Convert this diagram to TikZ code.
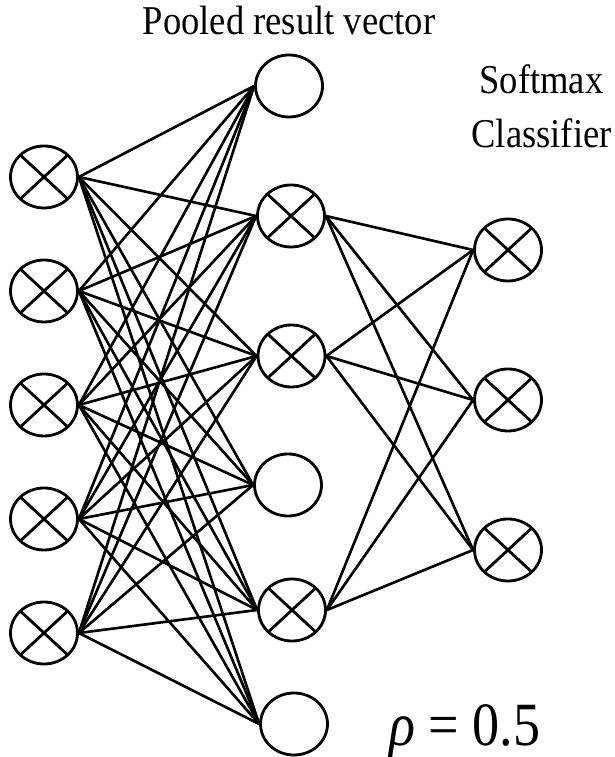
\documentclass[tikz,border=0pt]{standalone}
\usepackage{fontspec}
\setmainfont{Liberation Serif}
\usetikzlibrary{shapes.geometric}

\begin{document}
\begin{tikzpicture}[
            unit/.style = {draw, ellipse, line width = 0.8pt, inner sep = 0mm, minimum width = 6.7mm, minimum height = 6.2mm},
            prod/.style = {unit, path picture = {
                    \draw[line width = 0.8pt] (path picture bounding box.north west) -- (path picture bounding box.south east)
                        (path picture bounding box.north east) -- (path picture bounding box.south west);}},
            lbl/.style = {anchor = base, inner sep = 0mm, font = \fontsize{10.4}{12}\selectfont, yscale = 1.12, transform shape},
            con/.style = {draw, line width = 0.75pt},
        ]
        \useasboundingbox (0,0) rectangle (6.14,7.57);

        \node (I1) [prod] at (0.44, 5.80){};
        \node (I2) [prod] at (0.44, 4.66){};
        \node (I3) [prod] at (0.44, 3.52){};
        \node (I4) [prod] at (0.44, 2.38){};
        \node (I5) [prod] at (0.44, 1.24){};

        \node (H1) [unit] at (2.89, 6.71){};
        \node (H2) [prod] at (2.91, 5.41){};
        \node (H3) [prod] at (2.915, 4.01){};
        \node (H4) [unit] at (2.88, 2.72){};
        \node (H5) [prod] at (2.92, 1.47){};
        \node (H6) [unit] at (2.94, 0.33){};

        \node (O1) [prod] at (5.08, 5.07){};
        \node (O2) [prod] at (5.08, 3.57){};
        \node (O3) [prod] at (5.08, 2.07){};

        \node (POOL) [lbl] at (2.89, 7.22) {Pooled result vector};
        \node (SOFT) [lbl] at (5.415, 6.63) {Softmax};
        \node (CLS) [lbl] at (5.415, 6.09) {Classifier};
        \node (RHO) [anchor = base, inner sep = 0mm, font = \fontsize{17.5}{20}\selectfont, xscale = 0.88, transform shape] at (4.65, 0.12) {\textit{ρ} = 0.5};

        \foreach \i in {1,...,5}
            \foreach \h in {1,...,6}
                \path[con] (I\i.east) -- (H\h.west);

        \foreach \h in {2,3,5}
            \foreach \o in {1,2,3}
                \path[con] (H\h.east) -- (O\o.west);
    \end{tikzpicture}
\end{document}
